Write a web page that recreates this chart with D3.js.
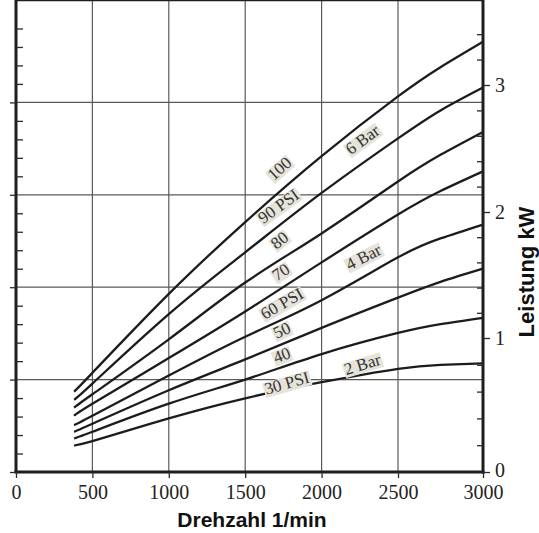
<!DOCTYPE html>
<html>
<head>
<meta charset="utf-8">
<script src="https://cdn.jsdelivr.net/npm/d3@7"></script>
<style>
  body { margin: 0; background: #fff; }
</style>
</head>
<body>
<svg></svg>
<script>
// Drehzahl (1/min) where the curves are read
var rpm = [380, 500, 1000, 1500, 2000, 2500, 2750, 3000];

// Leistung kW per Druck
var psi100 = [0.60, 0.74, 1.35, 1.92, 2.44, 2.91, 3.14, 3.34];
var psi90 = [0.54, 0.66, 1.19, 1.68, 2.15, 2.58, 2.80, 2.98];
var psi80 = [0.48, 0.58, 0.99, 1.44, 1.83, 2.24, 2.45, 2.63];
var psi70 = [0.42, 0.51, 0.85, 1.21, 1.60, 1.98, 2.165, 2.32];
var psi60 = [0.35, 0.42, 0.72, 1.01, 1.30, 1.64, 1.79, 1.90];
var psi50 = [0.30, 0.36, 0.61, 0.84, 1.08, 1.32, 1.445, 1.55];
var psi40 = [0.25, 0.30, 0.51, 0.69, 0.88, 1.04, 1.11, 1.16];
var psi30 = [0.20, 0.23, 0.40, 0.55, 0.67, 0.77, 0.80, 0.81];

var series = [psi100, psi90, psi80, psi70, psi60, psi50, psi40, psi30];

// curve labels
var labelText = ["100", "90 PSI", "80", "70", "60 PSI", "50", "40", "30 PSI", "2 Bar", "4 Bar", "6 Bar"];
var labelRpm = [1723, 1717, 1723, 1732, 1739, 1739, 1739, 1772, 2266, 2273, 2266];
var labelKw = [2.344, 2.047, 1.778, 1.526, 1.275, 1.063, 0.873, 0.666, 0.806, 1.645, 2.572];
var labelAngle = [-42, -36, -38, -34, -30, -25, -21, -16, -17, -27, -36];

var xTicks = [0, 500, 1000, 1500, 2000, 2500, 3000];
var kwTicks = [0, 1, 2, 3];

const svgWidth = 539, svgHeight = 533;
const bg = "#e6e4da";

var svg = d3.select("svg")
    .attr("width", svgWidth)
    .attr("height", svgHeight)
    .style("display", "block");

// the original scan is a bit uneven, so the scales have a few stops
var x = d3.scaleLinear()
    .domain([0, 2500, 3000])
    .range([16, 398, 483]);

var yKw = d3.scaleLinear()
    .domain([0, 1, 2, 3, 3.59])
    .range([472, 338, 212, 85, 10]);

// unlabelled left scale (grid)
var yLeft = d3.scaleLinear()
    .domain([0, 5])
    .range([472, 10]);

var left = x(0), right = x(3000), top = yLeft(5), bottom = yLeft(0);

svg.append("rect")
    .attr("x", left)
    .attr("y", top)
    .attr("width", right - left)
    .attr("height", bottom - top)
    .attr("fill", bg);

// grid
svg.append("g")
    .selectAll("line")
    .data(xTicks.slice(1, -1))
    .enter()
    .append("line")
    .attr("x1", d => x(d))
    .attr("x2", d => x(d))
    .attr("y1", top)
    .attr("y2", bottom)
    .attr("stroke", "#5a5a55")
    .attr("stroke-width", 1.2);

svg.append("g")
    .selectAll("line")
    .data([1, 2, 3, 4])
    .enter()
    .append("line")
    .attr("x1", left)
    .attr("x2", right)
    .attr("y1", d => yLeft(d))
    .attr("y2", d => yLeft(d))
    .attr("stroke", "#5a5a55")
    .attr("stroke-width", 1.2);

// curves
var line = d3.line()
    .x((d, i) => x(rpm[i]))
    .y(d => yKw(d))
    .curve(d3.curveNatural);

svg.append("g")
    .selectAll("path")
    .data(series)
    .enter()
    .append("path")
    .attr("d", line)
    .attr("fill", "none")
    .attr("stroke", "#1c1c1c")
    .attr("stroke-width", 2.3);

// labels on the curves, with a small knockout box
var labels = svg.append("g")
    .selectAll("g")
    .data(labelText)
    .enter()
    .append("g")
    .attr("transform", (d, i) => "translate(" + x(labelRpm[i]) + "," + yKw(labelKw[i]) + ") rotate(" + labelAngle[i] + ")");

labels.append("text")
    .text(d => d)
    .attr("text-anchor", "middle")
    .attr("dy", "0.35em")
    .style("font-family", "'Liberation Serif', 'Times New Roman', serif")
    .style("font-size", "17px")
    .attr("fill", "#333");

labels.each(function() {
    var g = d3.select(this);
    var b = g.select("text").node().getBBox();
    g.insert("rect", "text")
        .attr("x", b.x - 1)
        .attr("y", b.y + 3)
        .attr("width", b.width + 2)
        .attr("height", b.height - 4)
        .attr("fill", bg);
});

// frame
var frame = svg.append("g").attr("stroke", "#1e1e1e");
frame.append("line").attr("x1", left - 1).attr("x2", right + 1).attr("y1", top).attr("y2", top).attr("stroke-width", 2.5);
frame.append("line").attr("x1", left).attr("x2", left).attr("y1", top).attr("y2", bottom).attr("stroke-width", 3);
frame.append("line").attr("x1", right).attr("x2", right).attr("y1", top).attr("y2", bottom + 1.5).attr("stroke-width", 3);
frame.append("line").attr("x1", left - 1.5).attr("x2", right + 1.5).attr("y1", bottom).attr("y2", bottom).attr("stroke-width", 3);

// axes
var tickFont = "'Liberation Serif', 'Times New Roman', serif";

svg.append("g")
    .attr("transform", "translate(0," + bottom + ")")
    .call(d3.axisBottom(x).tickValues(xTicks).tickSize(6).tickPadding(7).tickFormat(d3.format("d")));

svg.append("g")
    .attr("transform", "translate(" + right + ",0)")
    .call(d3.axisRight(yKw).tickValues(kwTicks).tickSize(7).tickPadding(5).tickFormat(d3.format("d")));

svg.append("g")
    .attr("transform", "translate(" + right + ",0)")
    .call(d3.axisLeft(yKw).tickValues(d3.range(1, 18).map(d => d * 0.2).filter(d => Math.abs(d - Math.round(d)) > 0.01)).tickSize(6).tickFormat(""));

svg.append("g")
    .attr("transform", "translate(" + left + ",0)")
    .call(d3.axisRight(yLeft).tickValues(d3.range(1, 25).map(d => d * 0.2).filter(d => Math.abs(d - Math.round(d)) > 0.01)).tickSize(7).tickFormat(""));

svg.append("g")
    .attr("transform", "translate(" + left + ",0)")
    .call(d3.axisLeft(yLeft).tickValues([0, 1, 2, 3, 4]).tickSize(6).tickFormat(""));

svg.selectAll(".domain").remove();

svg.selectAll(".tick line")
    .attr("stroke", "#2a2a2a")
    .attr("stroke-width", 1.3);

svg.selectAll(".tick text")
    .style("font-family", tickFont)
    .style("font-size", "20px")
    .attr("fill", "#222");

// the "0" on the kW axis sits a hair above the corner
svg.selectAll(".tick text")
    .filter(function() { return this.textContent === "0" && this.getAttribute("x") !== null && +this.getAttribute("x") > 0; })
    .attr("dy", "0.2em");

// axis titles
svg.append("text")
    .attr("x", 252)
    .attr("y", 527)
    .attr("text-anchor", "middle")
    .style("font-family", "'Liberation Sans', Arial, sans-serif")
    .style("font-weight", "bold")
    .style("font-size", "21px")
    .attr("fill", "#111")
    .text("Drehzahl 1/min");

svg.append("text")
    .attr("transform", "translate(534,272) rotate(-90)")
    .attr("text-anchor", "middle")
    .style("font-family", "'Liberation Sans', Arial, sans-serif")
    .style("font-weight", "bold")
    .style("font-size", "22px")
    .attr("fill", "#111")
    .text("Leistung kW");
</script>
</body>
</html>
